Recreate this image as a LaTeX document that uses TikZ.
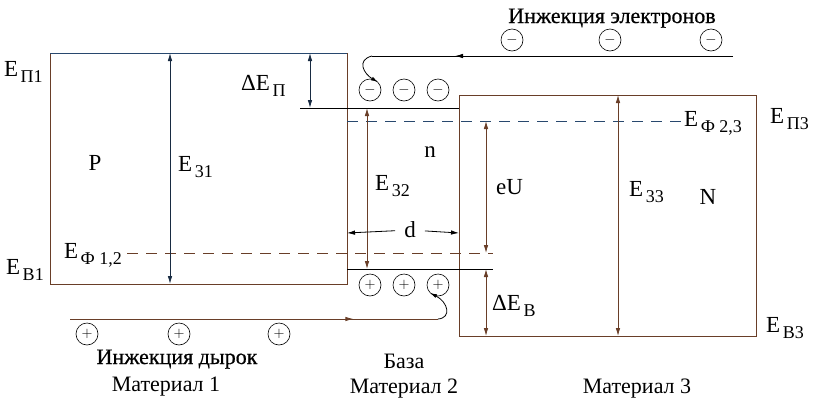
\documentclass[tikz,border=0pt]{standalone}
\usepackage{fontspec}
\setmainfont{Liberation Serif}
\newfontfamily\grasfont[FakeBold=0.6]{Liberation Serif}
\usetikzlibrary{arrows.meta,decorations.markings}

\definecolor{brun}{RGB}{105,62,40}
\definecolor{bleu}{RGB}{40,72,110}

\newcommand{\enr}[2]{#1\kern2.5pt\raisebox{-0.55ex}{\fontsize{18}{18}\selectfont #2}}

\tikzset{zone/.style = {draw=brun, line width=0.9},
         bord/.style = {draw=black, line width=0.9},
         fermi/.style = {dash pattern=on 11pt off 8pt, line width=0.9},
         fleche/.style = {{Latex[length=8pt,width=4.5pt]}-{Latex[length=8pt,width=4.5pt]}, line width=0.8},
         charge/.style = {circle, draw, line width=0.6, minimum size=22pt, inner sep=0pt, font=\fontsize{14}{14}\selectfont},
         milieu/.style = {postaction={decorate, decoration={markings, mark=at position #1 with {\arrow{Latex[length=8pt,width=4.5pt]}}}}},
         lbl/.style = {inner sep=0pt, font=\fontsize{23}{23}\selectfont},
         txt/.style = {inner sep=0pt, anchor=base, font=\fontsize{22}{22}\selectfont}
        }

\begin{document}
\begin{tikzpicture}[x=1pt, y=-1pt]
  \useasboundingbox (0,0) rectangle (822,402);
  % material 1
  \coordinate (a1) at (50,53);   \coordinate (a2) at (347,53);
  \coordinate (a3) at (347,284); \coordinate (a4) at (50,284);
  \draw[zone] (a4) -- (a1);
  \draw[bleu, line width=0.9] (a1) -- (a2);
  \draw[zone] (a2) -- (a3) -- (a4);
  % material 3
  \coordinate (c1) at (459,95);  \coordinate (c2) at (756,95);
  \coordinate (c3) at (756,336); \coordinate (c4) at (459,336);
  \draw[zone] (c1) -- (c2) -- (c3) -- (c4) -- cycle;
  % base
  \coordinate (bh0) at (300,108); \coordinate (bh1) at (459,108);
  \coordinate (bb0) at (347,269); \coordinate (bb1) at (493,269);
  \draw[bord] (bh0) -- (bh1);
  \draw[bord] (bb0) -- (bb1);
  % fermi levels
  \coordinate (f1) at (127,253); \coordinate (f2) at (493,253);
  \coordinate (f3) at (347,121); \coordinate (f4) at (682,121);
  \draw[fermi, brun] (f1) -- (f2);
  \draw[fermi, bleu] (f3) -- (f4);
  % arrows
  \coordinate (e31h) at (170,53);  \coordinate (e31b) at (170,284);
  \coordinate (dph) at (310,53);   \coordinate (dpb) at (310,108);
  \coordinate (e32h) at (367,108); \coordinate (e32b) at (367,269);
  \coordinate (dg) at (347,233);   \coordinate (dd) at (459,233);
  \coordinate (euh) at (486,121);  \coordinate (eub) at (486,253);
  \coordinate (dbh) at (486,269);  \coordinate (dbb) at (486,336);
  \coordinate (e33h) at (618,95);  \coordinate (e33b) at (618,336);
  \draw[fleche, bleu!60!black] (e31h) -- (e31b);
  \draw[fleche, bleu!60!black] (dph) -- (dpb);
  \draw[fleche, brun] (e32h) -- (e32b);
  \draw[fleche, brun] (euh) -- (eub);
  \draw[fleche, brun] (dbh) -- (dbb);
  \draw[fleche, brun] (e33h) -- (e33b);
  \node[lbl, fill=white, inner xsep=9pt] (d) at (410,230) {d};
  \draw[-{Latex[length=8pt,width=4.5pt]}, line width=0.8] (d) -- (dg);
  \draw[-{Latex[length=8pt,width=4.5pt]}, line width=0.8] (d) -- (dd);
  % labels
  \node[lbl, anchor=west] (ep1) at (4,72) {\enr{E}{П1}};
  \node[lbl, anchor=west] (eb1) at (6,270) {\enr{E}{B1}};
  \node[lbl, anchor=west] (ep3) at (770,119) {\enr{E}{П3}};
  \node[lbl, anchor=west] (eb3) at (766,328) {\enr{E}{B3}};
  \node[lbl, anchor=east] (ef12) at (122,255) {\enr{E}{Ф 1,2}};
  \node[lbl, anchor=west] (ef23) at (684,123) {\enr{E}{Ф 2,3}};
  \node[lbl, anchor=west] (l31) at (178,167) {\enr{E}{31}};
  \node[lbl, anchor=west] (l32) at (375,186) {\enr{E}{32}};
  \node[lbl, anchor=west] (l33) at (629,192) {\enr{E}{33}};
  \node[lbl, anchor=west] (leu) at (496,187) {eU};
  \node[lbl, anchor=west] (ldp) at (241,86) {\enr{ΔE}{П}};
  \node[lbl, anchor=west] (ldb) at (492,306) {\enr{ΔE}{B}};
  \node[lbl] (mp) at (95,163) {P};
  \node[lbl] (mn) at (430,152) {n};
  \node[lbl] (mN) at (708,197) {N};
  % charges
  \foreach \x [count=\i] in {512,610,711}
    \node[charge] (ie\i) at (\x,40) {$-$};
  \foreach \x [count=\i] in {370,404,438} {
    \node[charge] (be\i) at (\x,90) {$-$};
    \node[charge] (bt\i) at (\x,285) {$+$};
  }
  \foreach \x [count=\i] in {87,179,279}
    \node[charge] (it\i) at (\x,334) {$+$};
  % injection
  \coordinate (ie0) at (733,56); \coordinate (ie9) at (372,56);
  \draw[line width=0.8, milieu=0.77] (ie0) -- (ie9);
  \draw[line width=0.8, -{Latex[length=7pt,width=4pt]}] (ie9) .. controls (356,60) and (364,74) .. (be1.north east);
  \coordinate (it0) at (70,319); \coordinate (it9) at (438,319);
  \draw[line width=0.8, brun, milieu=0.77] (it0) -- (it9);
  \draw[line width=0.8, -{Latex[length=7pt,width=4pt]}] (it9) .. controls (452,318) and (448,302) .. (bt3.south west);
  % texts
  \node[txt] (tie) at (612,23) {\grasfont Инжекция электронов};
  \node[txt] (tit) at (177,364) {\grasfont Инжекция дырок};
  \node[txt] (tba) at (404,368) {База};
  \node[txt] (tm1) at (166,391) {Материал 1};
  \node[txt] (tm2) at (404,393) {Материал 2};
  \node[txt] (tm3) at (637,393) {Материал 3};
\end{tikzpicture}
\end{document}
